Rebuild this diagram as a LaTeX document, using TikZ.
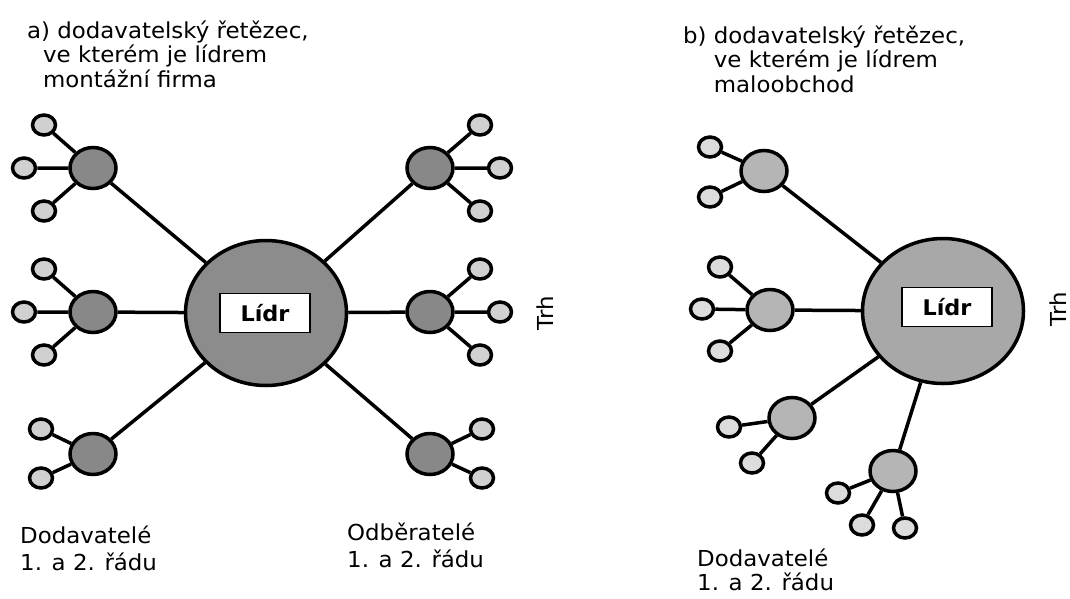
\documentclass[tikz,border=0pt]{standalone}
\usepackage{fontspec}
\setmainfont[FakeStretch=1.04]{DejaVu Sans}
\usepackage{tikz}
\usetikzlibrary{shapes.geometric,positioning}
\definecolor{lidrdark}{HTML}{8C8C8C}
\definecolor{tierdark}{HTML}{888888}
\definecolor{leafdark}{HTML}{D0D0D0}
\definecolor{lidrlight}{HTML}{A8A8A8}
\definecolor{tierlight}{HTML}{B5B5B5}
\definecolor{leaflight}{HTML}{DCDCDC}
\newcommand{\labelfont}{\fontsize{22}{24.5}\selectfont}

\begin{document}
\begin{tikzpicture}[x=1pt,y=-1pt, every node/.style={font=\labelfont,inner sep=0pt},
  lidr/.style={ellipse,draw,line width=3.5pt,minimum width=161pt,minimum height=145pt},
  tier/.style={ellipse,draw,line width=3.5pt,minimum width=46pt,minimum height=41pt},
  leaf/.style={ellipse,draw,line width=3.5pt,minimum width=23pt,minimum height=20pt},
  namebox/.style={draw,fill=white,line width=1.5pt,minimum width=90pt,minimum height=39pt,font=\fontsize{21.5}{24}\selectfont\bfseries},
  link/.style={line width=3.5pt}]
\useasboundingbox (0,0) rectangle (1070,598);

% a) montazni firma
\node[anchor=base west] (titleA) at (27,38) {\begin{tabular}[t]{@{}l@{}}a) dodavatelský řetězec,\\\hspace*{16pt}ve kterém je lídrem\\\hspace*{16pt}montážní firma\end{tabular}};
\node[lidr,fill=lidrdark] (lidrA) at (266,313) {};
\node[namebox] (boxA) at (265,313) {Lídr};
\node[tier,fill=tierdark] (sA1) at (93,168) {};
\node[tier,fill=tierdark] (sA2) at (93,312) {};
\node[tier,fill=tierdark] (sA3) at (93,454) {};
\node[tier,fill=tierdark] (oA1) at (430,168) {};
\node[tier,fill=tierdark] (oA2) at (430,312) {};
\node[tier,fill=tierdark] (oA3) at (430,454) {};
\node[leaf,fill=leafdark] (sA1a) at (44,125) {};
\node[leaf,fill=leafdark] (sA1b) at (24,168) {};
\node[leaf,fill=leafdark] (sA1c) at (44,211) {};
\node[leaf,fill=leafdark] (sA2a) at (44,269) {};
\node[leaf,fill=leafdark] (sA2b) at (24,312) {};
\node[leaf,fill=leafdark] (sA2c) at (44,355) {};
\node[leaf,fill=leafdark] (sA3a) at (41,429) {};
\node[leaf,fill=leafdark] (sA3b) at (41,478) {};
\node[leaf,fill=leafdark] (oA1a) at (480,125) {};
\node[leaf,fill=leafdark] (oA1b) at (500,168) {};
\node[leaf,fill=leafdark] (oA1c) at (480,211) {};
\node[leaf,fill=leafdark] (oA2a) at (480,269) {};
\node[leaf,fill=leafdark] (oA2b) at (500,312) {};
\node[leaf,fill=leafdark] (oA2c) at (480,355) {};
\node[leaf,fill=leafdark] (oA3a) at (482,429) {};
\node[leaf,fill=leafdark] (oA3b) at (482,478) {};
\node[rotate=90] (trhA) at (545,313) {Trh};
\node[anchor=base west] (dodA) at (20,543) {\begin{tabular}[t]{@{}l@{}}Dodavatelé\\[3pt]1. a 2. řádu\end{tabular}};
\node[anchor=base west] (odbA) at (347,540) {\begin{tabular}[t]{@{}l@{}}Odběratelé\\[3pt]1. a 2. řádu\end{tabular}};
\draw[link] (lidrA)--(sA1) (lidrA)--(sA2) (lidrA)--(sA3);
\draw[link] (lidrA)--(oA1) (lidrA)--(oA2) (lidrA)--(oA3);
\draw[link] (sA1)--(sA1a) (sA1)--(sA1b) (sA1)--(sA1c);
\draw[link] (sA2)--(sA2a) (sA2)--(sA2b) (sA2)--(sA2c);
\draw[link] (sA3)--(sA3a) (sA3)--(sA3b);
\draw[link] (oA1)--(oA1a) (oA1)--(oA1b) (oA1)--(oA1c);
\draw[link] (oA2)--(oA2a) (oA2)--(oA2b) (oA2)--(oA2c);
\draw[link] (oA3)--(oA3a) (oA3)--(oA3b);

% b) maloobchod
\node[anchor=base west] (titleB) at (683,43) {b) \begin{tabular}[t]{@{}l@{}}dodavatelský řetězec,\\ve kterém je lídrem\\maloobchod\end{tabular}};
\node[lidr,fill=lidrlight] (lidrB) at (943,311) {};
\node[namebox] (boxB) at (947,307) {Lídr};
\node[tier,fill=tierlight] (sB1) at (764,171) {};
\node[tier,fill=tierlight] (sB2) at (770,310) {};
\node[tier,fill=tierlight] (sB3) at (792,418) {};
\node[tier,fill=tierlight] (sB4) at (893,471) {};
\node[leaf,fill=leaflight] (sB1a) at (710,147) {};
\node[leaf,fill=leaflight] (sB1b) at (710,197) {};
\node[leaf,fill=leaflight] (sB2a) at (720,267) {};
\node[leaf,fill=leaflight] (sB2b) at (702,309) {};
\node[leaf,fill=leaflight] (sB2c) at (720,351) {};
\node[leaf,fill=leaflight] (sB3a) at (729,427) {};
\node[leaf,fill=leaflight] (sB3b) at (752,463) {};
\node[leaf,fill=leaflight] (sB4a) at (838,493) {};
\node[leaf,fill=leaflight] (sB4b) at (862,525) {};
\node[leaf,fill=leaflight] (sB4c) at (905,528) {};
\node[rotate=90] (trhB) at (1058,309) {Trh};
\node[anchor=base west] (dodB) at (697,566) {\begin{tabular}[t]{@{}l@{}}Dodavatelé\\1. a 2. řádu\end{tabular}};
\draw[link] (lidrB)--(sB1) (lidrB)--(sB2) (lidrB)--(sB3) (lidrB)--(sB4);
\draw[link] (sB1)--(sB1a) (sB1)--(sB1b);
\draw[link] (sB2)--(sB2a) (sB2)--(sB2b) (sB2)--(sB2c);
\draw[link] (sB3)--(sB3a) (sB3)--(sB3b);
\draw[link] (sB4)--(sB4a) (sB4)--(sB4b) (sB4)--(sB4c);
\end{tikzpicture}
\end{document}
